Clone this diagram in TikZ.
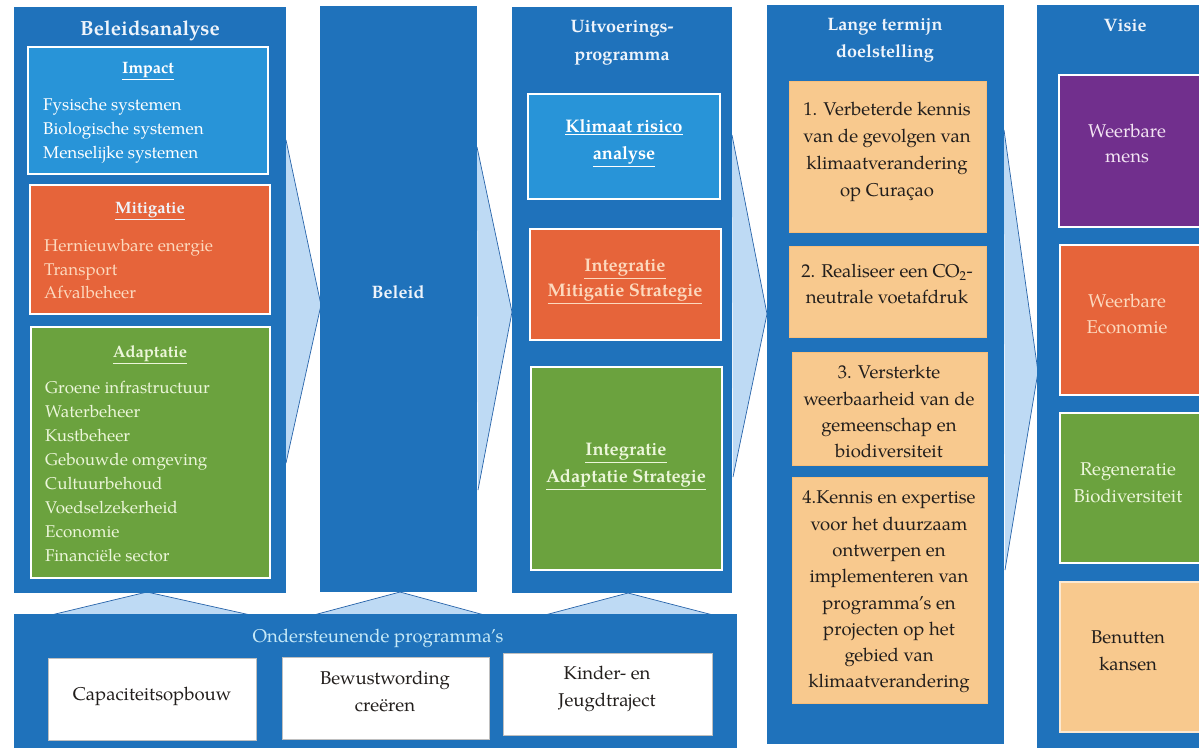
\documentclass[tikz,border=0pt]{standalone}
\usepackage{fontspec}
\setmainfont{TeX Gyre Pagella}
\definecolor{colblue}{RGB}{31,114,187}
\definecolor{boxblue}{RGB}{40,148,216}
\definecolor{boxorange}{RGB}{230,100,58}
\definecolor{boxgreen}{RGB}{107,162,62}
\definecolor{boxpeach}{RGB}{248,201,142}
\definecolor{boxpurple}{RGB}{113,47,141}
\definecolor{chevfill}{RGB}{190,218,244}
\definecolor{chevline}{RGB}{40,100,170}
\definecolor{titletext}{RGB}{238,244,251}
\definecolor{peachtext}{RGB}{252,217,190}
\definecolor{greentext}{RGB}{236,246,218}
\definecolor{purpletext}{RGB}{243,228,243}
\definecolor{cyantext}{RGB}{198,233,247}
\definecolor{darktext}{RGB}{34,30,28}
\newcommand\bx[6]{\node[#6, anchor=north west, inner sep=0pt, outer sep=0pt, minimum width={(#4-#2)*1pt}, minimum height={(#5-#3)*1pt}] (#1) at (#2,#3) {};}
\begin{document}
\begin{tikzpicture}[x=1pt,y=-1pt,
  col/.style={fill=colblue, draw=none},
  inbox/.style={draw=white, line width=1.6pt},
  ltbox/.style={fill=boxpeach, draw=boxpeach!85!orange, line width=0.8pt},
  wbox/.style={fill=white, draw=gray!50, line width=0.6pt},
  chev/.style={fill=chevfill},
  chevl/.style={draw=chevline, line width=0.7pt},
  tx/.style={anchor=mid, inner sep=0pt, yshift=-3.5pt, align=center, font=\fontsize{18.5}{22}\selectfont},
  ttl/.style={tx, text=titletext, font=\fontsize{18}{22}\selectfont\bfseries},
  li/.style={anchor=mid west, inner sep=0pt, yshift=-3.5pt, font=\fontsize{17}{20}\selectfont},
  sub/.style={tx, font=\fontsize{16.5}{20}\selectfont\bfseries},
  sub2/.style={tx, font=\fontsize{18.2}{20}\selectfont\bfseries}]
\useasboundingbox (0,0) rectangle (1199,747);
\clip (0,0) rectangle (1199,747);
\fill[white] (0,0) rectangle (1199,747);

% chevrons between columns
\coordinate (k1a) at (286,140); \coordinate (k1b) at (321,305); \coordinate (k1c) at (286,463);
\coordinate (k2a) at (477,147); \coordinate (k2b) at (512,312); \coordinate (k2c) at (478,490);
\coordinate (k3a) at (732,135); \coordinate (k3b) at (767,314); \coordinate (k3c) at (733,477);
\coordinate (k4a) at (1004,130); \coordinate (k4b) at (1038,372); \coordinate (k4c) at (1005,570);
\foreach \k in {1,2,3,4}{
  \fill[chev] (k\k a) -- (k\k b) -- (k\k c) -- cycle;
  \draw[chevl] (k\k a) -- (k\k b) -- (k\k c);
}
% chevrons from bottom box up
\coordinate (u1a) at (47,616); \coordinate (u1b) at (147,592); \coordinate (u1c) at (255,616);
\coordinate (u2a) at (310,616); \coordinate (u2b) at (400,592); \coordinate (u2c) at (488,616);
\coordinate (u3a) at (545,615); \coordinate (u3b) at (628,593); \coordinate (u3c) at (713,615);
\foreach \k in {1,2,3}{
  \fill[chev] (u\k a) -- (u\k b) -- (u\k c) -- cycle;
  \draw[chevl] (u\k a) -- (u\k b) -- (u\k c);
}

% columns
\bx{c1}{14}{7}{286}{593}{col}
\bx{c2}{320}{6}{477}{592}{col}
\bx{c3}{512}{7}{732}{593}{col}
\bx{c4}{767}{5}{1004}{744}{col}
\bx{c5}{1037}{5}{1215}{750}{col}
\bx{ob}{14}{614}{737}{750}{col}

% inner boxes
\bx{imp}{28}{47}{268}{174}{inbox, fill=boxblue}
\bx{mit}{30}{185}{270}{314}{inbox, fill=boxorange}
\bx{ada}{31}{327}{270}{578}{inbox, fill=boxgreen}
\bx{kra}{528}{94}{720}{199}{inbox, fill=boxblue}
\bx{ims}{530}{229}{721}{340}{inbox, fill=boxorange}
\bx{ias}{531}{367}{722}{570}{inbox, fill=boxgreen}
\bx{lt1}{789}{81}{986}{232}{ltbox}
\bx{lt2}{789}{246}{986}{337}{ltbox}
\bx{lt3}{792}{352}{987}{465}{ltbox}
\bx{lt4}{792}{477}{987}{703}{ltbox}
\bx{v1}{1059}{75}{1212}{227}{inbox, fill=boxpurple}
\bx{v2}{1060}{245}{1212}{395}{inbox, fill=boxorange}
\bx{v3}{1060}{413}{1212}{563}{inbox, fill=boxgreen}
\bx{v4}{1060}{582}{1212}{732}{inbox, draw=white!60!boxpeach, fill=boxpeach}
\bx{w1}{48}{658}{256}{740}{wbox}
\bx{w2}{282}{657}{489}{739}{wbox}
\bx{w3}{503}{653}{712}{735}{wbox}

% column 1 texts
\node[ttl, font=\fontsize{20.5}{24}\selectfont\bfseries] (t1) at (150,30) {Beleidsanalyse};
\node[sub, text=white] (s1) at (148,68) {\underline{Impact}};
\foreach \t [count=\i] in {Fysische systemen, Biologische systemen, Menselijke systemen}
  \node[li, text=white] (im\i) at (43,{105+(\i-1)*24}) {\t};
\node[sub, text=titletext] (s2) at (150,208) {\underline{Mitigatie}};
\foreach \t [count=\i] in {Hernieuwbare energie, Transport, Afvalbeheer}
  \node[li, text=peachtext] (mi\i) at (44,{246+(\i-1)*23.5}) {\t};
\node[sub, text=greentext] (s3) at (150,352) {\underline{Adaptatie}};
\foreach \t [count=\i] in {Groene infrastructuur, Waterbeheer, Kustbeheer, Gebouwde omgeving, Cultuurbehoud, Voedselzekerheid, Economie, Financiële sector}
  \node[li, text=greentext] (ad\i) at (45,{388+(\i-1)*23.9}) {\t};

% column 2
\node[ttl] (t2) at (398,293) {Beleid};

% column 3
\node[ttl] (t3a) at (622,27) {Uitvoerings-};
\node[ttl] (t3b) at (622,55) {programma};
\node[sub2, text=white] (k1) at (624,127) {\underline{Klimaat risico}};
\node[sub2, text=white] (k2) at (624,154) {\underline{analyse}};
\node[sub2, text=peachtext] (m1) at (625,266) {\underline{Integratie}};
\node[sub2, text=peachtext] (m2) at (625,291) {\underline{Mitigatie Strategie}};
\node[sub2, text=greentext] (a1) at (626,450) {\underline{Integratie}};
\node[sub2, text=greentext] (a2) at (626,477) {\underline{Adaptatie Strategie}};

% column 4
\node[ttl] (t4a) at (885,25) {Lange termijn};
\node[ttl] (t4b) at (885,52) {doelstelling};
\foreach \t [count=\i] in {1. Verbeterde kennis, van de gevolgen van, klimaatverandering, op Curaçao}
  \node[tx, text=darktext] (la\i) at (887,{110+(\i-1)*27}) {\t};
\node[tx, text=darktext] (lb1) at (887,272) {2. Realiseer een CO\textsubscript{2}-};
\node[tx, text=darktext] (lb2) at (887,298) {neutrale voetafdruk};
\foreach \t [count=\i] in {3. Versterkte, weerbaarheid van de, gemeenschap en, biodiversiteit}
  \node[tx, text=darktext] (lc\i) at (889,{373+(\i-1)*26.3}) {\t};
\foreach \t [count=\i] in {4.Kennis en expertise, voor het duurzaam, ontwerpen en, implementeren van, programma’s en, projecten op het, gebied van, klimaatverandering}
  \node[tx, text=darktext] (ld\i) at (889,{498+(\i-1)*26.3}) {\t};

% column 5
\node[ttl] (t5) at (1125,26) {Visie};
\node[tx, text=purpletext] (va1) at (1127,132) {Weerbare};
\node[tx, text=purpletext] (va2) at (1127,157) {mens};
\node[tx, text=peachtext] (vb1) at (1127,302) {Weerbare};
\node[tx, text=peachtext] (vb2) at (1127,328) {Economie};
\node[tx, text=greentext] (vc1) at (1128,470) {Regeneratie};
\node[tx, text=greentext] (vc2) at (1128,497) {Biodiversiteit};
\node[tx, text=darktext] (vd1) at (1128,638) {Benutten};
\node[tx, text=darktext] (vd2) at (1128,665) {kansen};

% bottom
\node[tx, text=cyantext] (ot) at (378,637) {Ondersteunende programma’s};
\node[tx, text=darktext] (wt1) at (152,695) {Capaciteitsopbouw};
\node[tx, text=darktext] (wt2a) at (385,679) {Bewustwording};
\node[tx, text=darktext] (wt2b) at (385,706) {creëren};
\node[tx, text=darktext] (wt3a) at (607,674) {Kinder- en};
\node[tx, text=darktext] (wt3b) at (607,701) {Jeugdtraject};
\end{tikzpicture}
\end{document}
